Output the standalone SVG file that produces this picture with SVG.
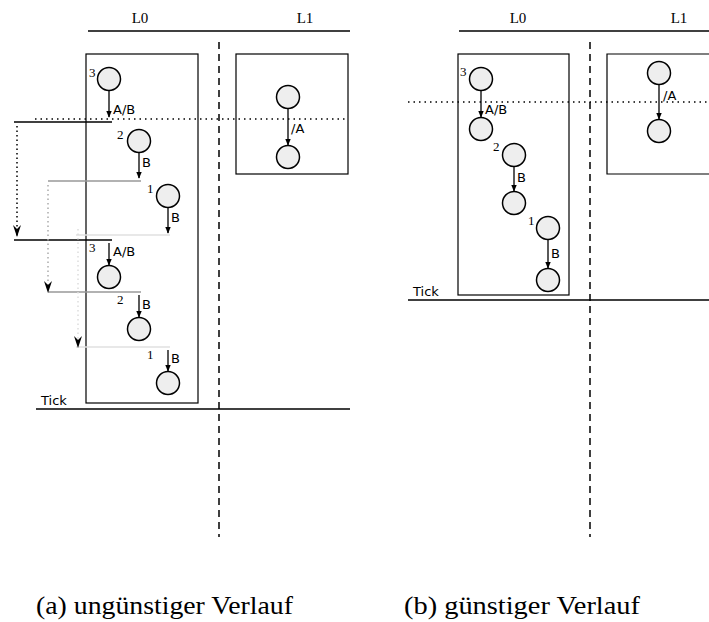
<svg xmlns="http://www.w3.org/2000/svg" width="709" height="622" viewBox="0 0 709 622">
  <defs>
    <style>
      .bg { fill: #ffffff; }
      .box { fill: none; stroke: #000; stroke-width: 1.2; }
      .state { fill: #eeeeee; stroke: #000; stroke-width: 1.5; }
      .edge { stroke: #000; stroke-width: 1.3; fill: none; }
      .lane { stroke: #000; stroke-width: 1.5; }
      .sep { stroke: #000; stroke-width: 1.5; stroke-dasharray: 7 5; }
      .now { stroke: #000; stroke-width: 1.5; stroke-dasharray: 1.5 4; }
      .lbl { font-family: "DejaVu Sans", "Liberation Sans", sans-serif; font-size: 13px; fill: #000; }
      .num { font-family: "Liberation Serif", serif; font-size: 13px; fill: #000; }
      .head { font-family: "Liberation Serif", serif; font-size: 15px; fill: #000; text-anchor: middle; }
      .cap { font-family: "Liberation Serif", serif; font-size: 25px; fill: #000; }
    </style>
    <marker id="ah" viewBox="0 0 10 10" refX="9" refY="5" markerWidth="7" markerHeight="7" orient="auto" markerUnits="userSpaceOnUse">
      <path d="M0,1 L10,5 L0,9 Z" fill="#000"/>
    </marker>
    <marker id="stealth-k" viewBox="0 0 12 10" refX="11" refY="5" markerWidth="12" markerHeight="10" orient="auto" markerUnits="userSpaceOnUse">
      <path d="M0,1 L12,5 L0,9 L4,5 Z" fill="#000"/>
    </marker>
  </defs>
  <rect class="bg" x="0" y="0" width="709" height="622"/>

  <!-- ===== (a) unfavourable run ===== -->
  <g id="a-frame">
    <line class="lane" x1="88" y1="31" x2="350" y2="31"/>
    <text class="head" x="140" y="23">L0</text>
    <text class="head" x="305" y="23">L1</text>
    <line class="sep" x1="219" y1="42" x2="219" y2="537"/>
    <line class="lane" x1="36" y1="409" x2="350" y2="409"/>
    <text class="lbl" x="41" y="405">Tick</text>
    <rect class="box" x="86" y="54" width="112" height="349"/>
    <rect class="box" x="236" y="54" width="112" height="120"/>
  </g>

  <g id="a-steps">
    <!-- step boundaries -->
    <line x1="14" y1="122" x2="112" y2="122" stroke="#000" stroke-width="1.5"/>
    <line x1="48" y1="181" x2="141" y2="181" stroke="#999" stroke-width="1.5"/>
    <line x1="76" y1="235" x2="170" y2="235" stroke="#e0e0e0" stroke-width="1.5"/>
    <line x1="14" y1="240" x2="112" y2="240" stroke="#000" stroke-width="1.5"/>
    <line x1="48" y1="292" x2="141" y2="292" stroke="#999" stroke-width="1.5"/>
    <line x1="76" y1="347" x2="170" y2="347" stroke="#e0e0e0" stroke-width="1.5"/>
    <!-- deferred steps -->
    <line x1="17" y1="126" x2="17" y2="236" stroke="#000" stroke-width="1.5" stroke-dasharray="1.5 3" marker-end="url(#stealth-k)"/>
    <line x1="48" y1="185" x2="48" y2="292" stroke="#aaa" stroke-width="1.5" stroke-dasharray="1.5 3" marker-end="url(#stealth-k)"/>
    <line x1="78" y1="229" x2="78" y2="347" stroke="#ddd" stroke-width="1.5" stroke-dasharray="1.5 3" marker-end="url(#stealth-k)"/>
  </g>

  <g id="a-now">
    <line class="now" x1="35" y1="119" x2="348" y2="119"/>
  </g>

  <g id="a-n3"><circle class="state" cx="109" cy="79" r="11.5"/><text class="num" x="89" y="77">3</text></g>
  <g id="a-n2"><circle class="state" cx="139" cy="141" r="11.5"/><text class="num" x="117" y="139">2</text></g>
  <g id="a-n1"><circle class="state" cx="168" cy="196" r="11.5"/><text class="num" x="147" y="193">1</text></g>
  <g id="a-n3b"><circle class="state" cx="109" cy="277" r="11.5"/><text class="num" x="89" y="252">3</text></g>
  <g id="a-n2b"><circle class="state" cx="139" cy="329" r="11.5"/><text class="num" x="117" y="304">2</text></g>
  <g id="a-n1b"><circle class="state" cx="168" cy="383" r="11.5"/><text class="num" x="147" y="359">1</text></g>
  <g id="a-m1"><circle class="state" cx="288" cy="97" r="11.5"/></g>
  <g id="a-m2"><circle class="state" cx="288" cy="157" r="11.5"/></g>

  <g id="a-edges">
    <line class="edge" x1="109" y1="91" x2="109" y2="117" marker-end="url(#ah)"/>
    <text class="lbl" x="113" y="114">A/B</text>
    <line class="edge" x1="139" y1="153" x2="139" y2="178" marker-end="url(#ah)"/>
    <text class="lbl" x="142" y="167">B</text>
    <line class="edge" x1="168" y1="208" x2="168" y2="233" marker-end="url(#ah)"/>
    <text class="lbl" x="171" y="222">B</text>
    <line class="edge" x1="109" y1="243" x2="109" y2="265" marker-end="url(#ah)"/>
    <text class="lbl" x="113" y="256">A/B</text>
    <line class="edge" x1="139" y1="295" x2="139" y2="317" marker-end="url(#ah)"/>
    <text class="lbl" x="142" y="309">B</text>
    <line class="edge" x1="168" y1="350" x2="168" y2="371" marker-end="url(#ah)"/>
    <text class="lbl" x="171" y="363">B</text>
    <line class="edge" x1="288" y1="109" x2="288" y2="145" marker-end="url(#ah)"/>
    <text class="lbl" x="291" y="133">/A</text>
  </g>

  <!-- ===== (b) favourable run ===== -->
  <g id="b-frame">
    <line class="lane" x1="459" y1="31" x2="709" y2="31"/>
    <text class="head" x="518" y="23">L0</text>
    <text class="head" x="679" y="23">L1</text>
    <line class="sep" x1="590" y1="42" x2="590" y2="537"/>
    <line class="lane" x1="408" y1="300" x2="709" y2="300"/>
    <text class="lbl" x="413" y="296">Tick</text>
    <rect class="box" x="458" y="54" width="111" height="241"/>
    <path class="box" d="M712,54 H607 V174 H712"/>
  </g>

  <g id="b-now">
    <line class="now" x1="408" y1="102" x2="709" y2="102"/>
  </g>

  <g id="b-n3"><circle class="state" cx="481" cy="79" r="11.5"/><text class="num" x="460" y="76">3</text></g>
  <g id="b-n3b"><circle class="state" cx="481" cy="129" r="11.5"/></g>
  <g id="b-n2"><circle class="state" cx="514" cy="155" r="11.5"/><text class="num" x="493" y="151">2</text></g>
  <g id="b-n2b"><circle class="state" cx="514" cy="203" r="11.5"/></g>
  <g id="b-n1"><circle class="state" cx="548" cy="228" r="11.5"/><text class="num" x="528" y="225">1</text></g>
  <g id="b-n1b"><circle class="state" cx="548" cy="280" r="11.5"/></g>
  <g id="b-m1"><circle class="state" cx="659" cy="73" r="11.5"/></g>
  <g id="b-m2"><circle class="state" cx="659" cy="131" r="11.5"/></g>

  <g id="b-edges">
    <line class="edge" x1="481" y1="91" x2="481" y2="117" marker-end="url(#ah)"/>
    <text class="lbl" x="485" y="114">A/B</text>
    <line class="edge" x1="514" y1="167" x2="514" y2="191" marker-end="url(#ah)"/>
    <text class="lbl" x="517" y="182">B</text>
    <line class="edge" x1="548" y1="240" x2="548" y2="268" marker-end="url(#ah)"/>
    <text class="lbl" x="551" y="258">B</text>
    <line class="edge" x1="659" y1="85" x2="659" y2="119" marker-end="url(#ah)"/>
    <text class="lbl" x="663" y="100">/A</text>
  </g>

  <!-- captions -->
  <text class="cap" x="36" y="614" textLength="257" lengthAdjust="spacingAndGlyphs">(a) ungünstiger Verlauf</text>
  <text class="cap" x="404" y="614" textLength="236" lengthAdjust="spacingAndGlyphs">(b) günstiger Verlauf</text>
</svg>
